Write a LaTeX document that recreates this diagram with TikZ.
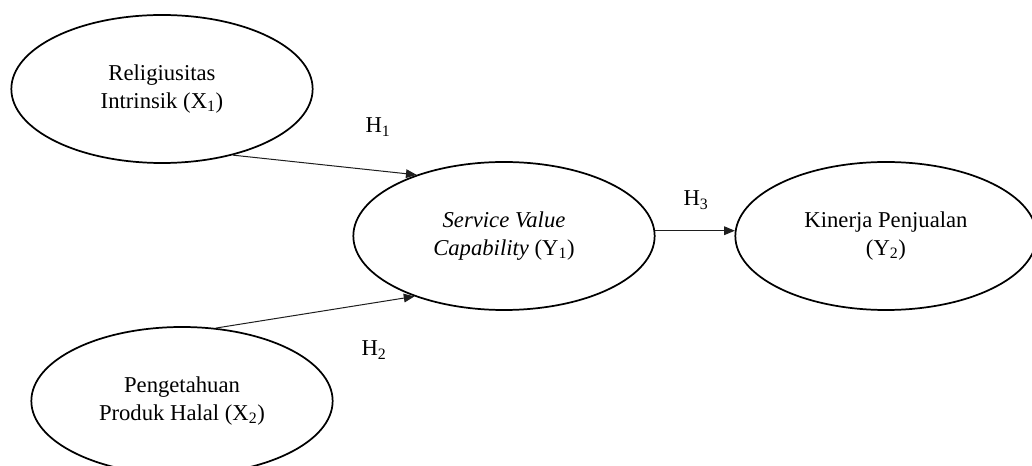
\documentclass[tikz,border=0pt]{standalone}
\usepackage{fontspec}
\setmainfont{Liberation Serif}
\usetikzlibrary{shapes.geometric,arrows.meta}

\tikzset{
  construct/.style={draw, ellipse, line width=1.3pt, minimum width=226pt, minimum height=111pt,
    inner sep=0pt, align=center, font=\fontsize{17}{21}\selectfont},
  link/.style={line width=0.75pt, color={rgb, 255:red, 30; green, 30; blue, 30}, -{Triangle[length=8pt,width=6.5pt]}},
  hlabel/.style={inner sep=0.75pt, font=\fontsize{17}{21}\selectfont}
}

\begin{document}
\begin{tikzpicture}[x=0.75pt,y=0.75pt,yscale=-1,xscale=1]
%set diagram left start at 0, and has height of 466
\useasboundingbox (0,0) rectangle (1032,466);

%Shape: Ellipse
\node [construct] (rel) at (162,89) {Religiusitas\\Intrinsik (X\textsubscript{1})};
%Shape: Ellipse
\node [construct] (svc) at (504,236) {\textit{Service Value}\\\textit{Capability} (Y\textsubscript{1})};
%Shape: Ellipse
\node [construct] (kin) at (886,236) {Kinerja Penjualan\\(Y\textsubscript{2})};
%Shape: Ellipse
\node [construct] (pph) at (182,401) {Pengetahuan\\Produk Halal (X\textsubscript{2})};

%Straight Lines
\draw [link] (rel.-43) -- (svc.145);
%Straight Lines
\draw [link] (pph.65) -- (svc.-146);
%Straight Lines
\draw [link] (svc.2) -- (kin.178);

% Text Node
\node [hlabel] (h1) at (378,127) {H\textsubscript{1}};
% Text Node
\node [hlabel] (h2) at (374,350) {H\textsubscript{2}};
% Text Node
\node [hlabel] (h3) at (696,200) {H\textsubscript{3}};

\end{tikzpicture}
\end{document}
